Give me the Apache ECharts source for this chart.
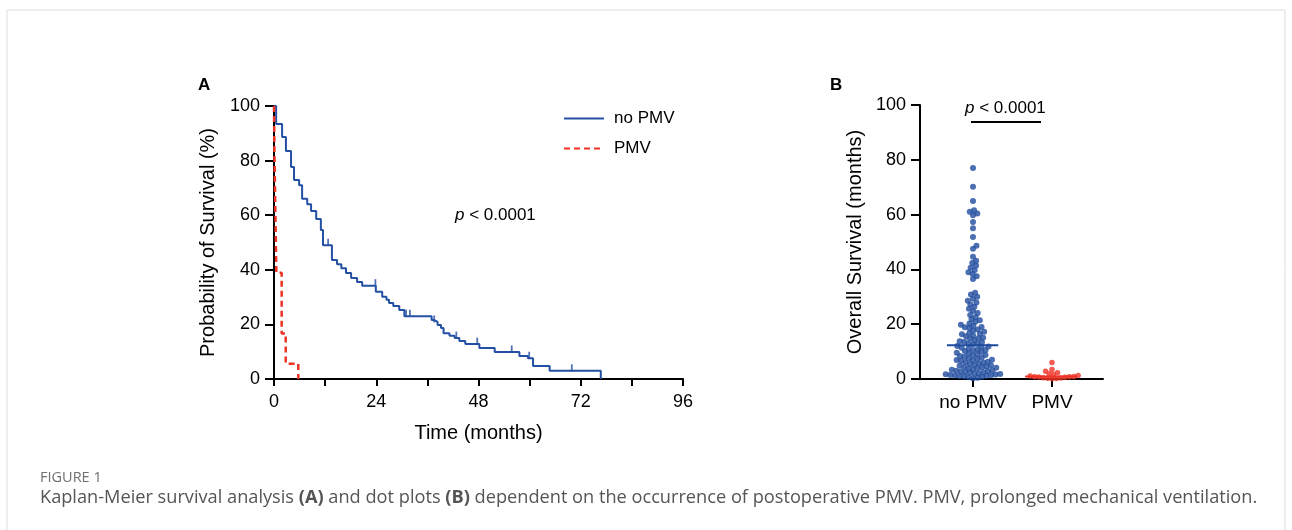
<!DOCTYPE html>
<html><head><meta charset="utf-8">
<script src="https://cdn.jsdelivr.net/npm/echarts@6/dist/echarts.min.js"></script>
<style>html,body{margin:0;padding:0;background:#fff}#c{width:1292px;height:530px}</style>
</head><body><div id="c"></div>
<script>
// ---- Panel A: Kaplan-Meier data (months, % survival) ----
const kmNoPmvTimes = [0, 0.5, 1.9, 2.8, 4.0, 4.7, 5.9, 6.6, 7.8, 8.7, 9.9, 11.0, 11.5, 13.6, 14.8, 15.8, 16.9, 18.1, 19.5, 20.7, 23.9, 25.4, 26.4, 27.0, 28.0, 29.4, 30.6, 37.0, 37.6, 38.4, 39.2, 39.8, 41.2, 42.4, 43.5, 44.9, 48.2, 51.8, 57.6, 59.6, 60.8, 64.7, 76.7];
const kmNoPmvSurv  = [100, 93.4, 88.6, 83.5, 77.7, 72.9, 71.0, 66.0, 64.0, 61.5, 58.6, 54.6, 49.0, 43.6, 42.0, 40.6, 38.8, 37.0, 35.5, 34.2, 32.0, 30.1, 29.0, 27.8, 26.7, 25.3, 23.0, 21.6, 20.9, 19.8, 18.7, 16.8, 15.8, 15.0, 13.9, 12.8, 11.4, 9.9, 8.4, 7.6, 4.8, 3.0, 0];
const censorNoPmvTimes = [12.7, 23.8, 31.0, 31.9, 37.6, 42.8, 47.7, 55.8, 59.9, 69.9];
const kmPmvTimes = [0, 0.1, 0.55, 1.8, 2.75, 5.7];
const kmPmvSurv  = [100, 83.3, 38.9, 16.7, 5.6, 0];
const xTicksA = [0, 24, 48, 72, 96];

// ---- Panel B: overall survival (months) ----
const groupLabels = ['no PMV', 'PMV'];
const osNoPmv = [
  0.3,0.5,0.8,1.0,1.2,1.3,1.5,1.6,1.8,1.9,0.6,1.1,1.4,1.7,
  2.1,2.3,2.5,2.7,2.9,3.0,3.2,3.4,3.6,3.8,3.9,2.6,
  4.1,4.3,4.6,4.8,5.0,5.2,5.5,5.7,5.9,4.4,
  6.1,6.3,6.6,6.8,7.0,7.3,7.5,7.8,6.9,
  8.1,8.4,8.7,9.0,9.3,9.6,9.9,8.8,
  10.2,10.5,10.8,11.1,11.4,11.7,11.9,10.6,
  12.0,12.6,13.0,13.4,13.8,12.9,13.6,
  14.2,14.7,15.1,15.6,15.9,14.9,
  16.3,16.8,17.2,17.7,16.5,
  18.1,18.6,19.0,19.4,19.8,18.9,
  20.3,20.9,21.4,21.8,
  22.6,23.4,24.1,24.8,
  25.6,26.4,27.2,27.9,
  28.6,29.3,30.0,30.8,31.5,
  36.5,37.5,38.3,39.0,39.8,40.6,41.4,
  42.3,43.2,44.6,
  47.5,48.6,
  51.8,55.0,57.3,59.8,60.4,61.0,61.6,65.0,70.2,77.0
];
const osPmv = [0.1,0.2,0.3,0.4,0.5,0.6,0.7,0.8,0.85,0.95,1.1,1.3,1.6,1.9,2.3,2.8,3.5,6.0];

const BLUE = '#2450a4', RED = '#ee3224', DOTBLUE = '#1f4b9e';
const FONT = 'Liberation Sans';

function zip(a, b) { return a.map((v, i) => [v, b[i]]); }
function survAt(times, surv, t) { let s = surv[0]; for (let i = 0; i < times.length; i++) { if (times[i] <= t) s = surv[i]; } return s; }
function median(arr) { const s = arr.slice().sort((a, b) => a - b); const n = s.length; return n % 2 ? s[(n - 1) / 2] : (s[n / 2 - 1] + s[n / 2]) / 2; }

const chart = echarts.init(document.getElementById('c'), null, { renderer: 'canvas' });

const axisLine = { show: true, onZero: false, lineStyle: { color: '#000', width: 2 } };
const labelStyle = { color: '#000', fontFamily: FONT, fontSize: 18 };
const nameStyle = { color: '#000', fontFamily: FONT, fontSize: 20 };

const option = {
  animation: false,
  backgroundColor: '#fff',
  grid: [
    { left: 274, top: 106, width: 409, height: 273 },
    { left: 920, top: 105, width: 183, height: 274 }
  ],
  xAxis: [
    { gridIndex: 0, type: 'value', min: 0, max: 96, interval: 12,
      axisLine: axisLine, axisTick: { show: true, length: 7, lineStyle: { width: 2, color: '#000' } },
      axisLabel: Object.assign({ margin: 14, formatter: v => xTicksA.includes(v) ? String(v) : '' }, labelStyle),
      splitLine: { show: false },
      name: 'Time (months)', nameLocation: 'middle', nameGap: 44, nameTextStyle: nameStyle },
    { gridIndex: 1, type: 'value', min: -0.671, max: 1.646,
      axisLine: axisLine,
      axisTick: { show: true, length: 8, customValues: [0, 1], lineStyle: { width: 2, color: '#000' } },
      axisLabel: Object.assign({ margin: 14, customValues: [0, 1], formatter: v => groupLabels[Math.round(v)] }, labelStyle, { fontSize: 19 }),
      splitLine: { show: false } }
  ],
  yAxis: [
    { gridIndex: 0, type: 'value', min: 0, max: 100, interval: 20,
      axisLine: axisLine, axisTick: { show: true, length: 9, lineStyle: { width: 2, color: '#000' } },
      axisLabel: Object.assign({ margin: 14 }, labelStyle), splitLine: { show: false },
      name: 'Probability of Survival (%)', nameLocation: 'middle', nameGap: 56, nameRotate: 90, nameTextStyle: nameStyle },
    { gridIndex: 1, type: 'value', min: 0, max: 100, interval: 20,
      axisLine: axisLine, axisTick: { show: true, length: 9, lineStyle: { width: 2, color: '#000' } },
      axisLabel: Object.assign({ margin: 14 }, labelStyle), splitLine: { show: false },
      name: 'Overall Survival (months)', nameLocation: 'middle', nameGap: 55, nameRotate: 90, nameTextStyle: nameStyle }
  ],
  legend: {
    data: [{ name: 'no PMV', itemStyle: { opacity: 0 } }, { name: 'PMV', itemStyle: { opacity: 0 } }],
    orient: 'vertical', left: 558, top: 105,
    itemWidth: 40, itemHeight: 14, itemGap: 13,
    textStyle: { fontFamily: FONT, fontSize: 17, color: '#000', padding: [0, 0, 0, 5] }
  },
  graphic: [
    { type: 'rect', shape: { x: 7, y: 10, width: 1278, height: 600 }, style: { fill: 'none', stroke: '#dddddd', lineWidth: 1 }, silent: true },
    { type: 'text', x: 198, y: 85, style: { text: 'A', font: 'bold 17px "Liberation Sans"', fill: '#000', verticalAlign: 'middle' } },
    { type: 'text', x: 830, y: 85, style: { text: 'B', font: 'bold 17px "Liberation Sans"', fill: '#000', verticalAlign: 'middle' } },
    { type: 'text', x: 455, y: 215, style: { text: '{p|p} < 0.0001', font: '17px "Liberation Sans"', fill: '#000', verticalAlign: 'middle',
        rich: { p: { fontStyle: 'italic', fontFamily: FONT, fontSize: 17 } } } },
    { type: 'text', x: 965, y: 108, style: { text: '{p|p} < 0.0001', font: '17px "Liberation Sans"', fill: '#000', verticalAlign: 'middle',
        rich: { p: { fontStyle: 'italic', fontFamily: FONT, fontSize: 17 } } } },
    { type: 'line', shape: { x1: 971, y1: 122, x2: 1041, y2: 122 }, style: { stroke: '#000', lineWidth: 2 } },
    { type: 'text', x: 40, y: 478, style: { text: 'FIGURE 1', font: '14.5px "Open Sans"', fill: '#707070', verticalAlign: 'middle' } },
    { type: 'text', x: 40, y: 498, style: {
        text: 'Kaplan-Meier survival analysis {b|(A)} and dot plots {b|(B)} dependent on the occurrence of postoperative PMV. PMV, prolonged mechanical ventilation.',
        font: '18.2px "Open Sans"', fill: '#555', verticalAlign: 'middle',
        rich: { b: { fontWeight: 'bold', fontFamily: 'Open Sans', fontSize: 18.2, fill: '#555' } } } }
  ],
  series: [
    { name: 'no PMV', type: 'line', xAxisIndex: 0, yAxisIndex: 0, step: 'end', symbol: 'none',
      data: zip(kmNoPmvTimes, kmNoPmvSurv), lineStyle: { color: BLUE, width: 2 }, itemStyle: { color: BLUE }, z: 3 },
    { name: 'PMV', type: 'line', xAxisIndex: 0, yAxisIndex: 0, step: 'end', symbol: 'none',
      data: zip(kmPmvTimes, kmPmvSurv), lineStyle: { color: RED, width: 2.5, type: [6, 4] }, itemStyle: { color: RED }, z: 4 },
    { name: 'censored', type: 'scatter', xAxisIndex: 0, yAxisIndex: 0, symbol: 'rect', symbolSize: [1.8, 7], symbolOffset: [0, -3],
      data: censorNoPmvTimes.map(t => [t, survAt(kmNoPmvTimes, kmNoPmvSurv, t)]), itemStyle: { color: BLUE }, z: 3 },
    { name: 'osNo', type: 'scatter', xAxisIndex: 1, yAxisIndex: 1, symbolSize: 6, data: [], itemStyle: { color: DOTBLUE }, z: 3 },
    { name: 'osPmv', type: 'scatter', xAxisIndex: 1, yAxisIndex: 1, symbolSize: 5.5, data: [], itemStyle: { color: RED }, z: 3 },
    { name: 'medNo', type: 'line', xAxisIndex: 1, yAxisIndex: 1, symbol: 'none',
      data: [[-0.33, median(osNoPmv)], [0.32, median(osNoPmv)]], lineStyle: { color: DOTBLUE, width: 2 }, z: 4 },
    { name: 'medPmv', type: 'line', xAxisIndex: 1, yAxisIndex: 1, symbol: 'none',
      data: [[1 - 0.34, median(osPmv)], [1 + 0.32, median(osPmv)]], lineStyle: { color: RED, width: 2 }, z: 2 }
  ]
};
chart.setOption(option);

function swarm(values, center, diam) {
  const cx = chart.convertToPixel({ xAxisIndex: 1 }, center);
  const unit = chart.convertToPixel({ xAxisIndex: 1 }, center + 1) - cx;
  const sorted = values.slice().sort((a, b) => a - b);
  const placed = [];
  const out = [];
  sorted.forEach(v => {
    const py = chart.convertToPixel({ yAxisIndex: 1 }, v);
    const cands = [0];
    placed.forEach(p => {
      const dy = py - p.y;
      if (Math.abs(dy) < diam) { const dx = Math.sqrt(diam * diam - dy * dy); cands.push(p.x + dx, p.x - dx); }
    });
    cands.sort((a, b) => Math.abs(a) - Math.abs(b));
    let chosen = cands[cands.length - 1];
    for (const c of cands) {
      if (placed.every(p => (p.x - c) ** 2 + (p.y - py) ** 2 >= diam * diam - 1e-6)) { chosen = c; break; }
    }
    placed.push({ x: chosen, y: py });
    out.push([center + chosen / unit, v]);
  });
  return out;
}

chart.setOption({ series: [
  {}, {}, {},
  { data: swarm(osNoPmv, 0, 4.6) },
  { data: swarm(osPmv, 1, 4.4) }
] });
</script>
</body></html>
